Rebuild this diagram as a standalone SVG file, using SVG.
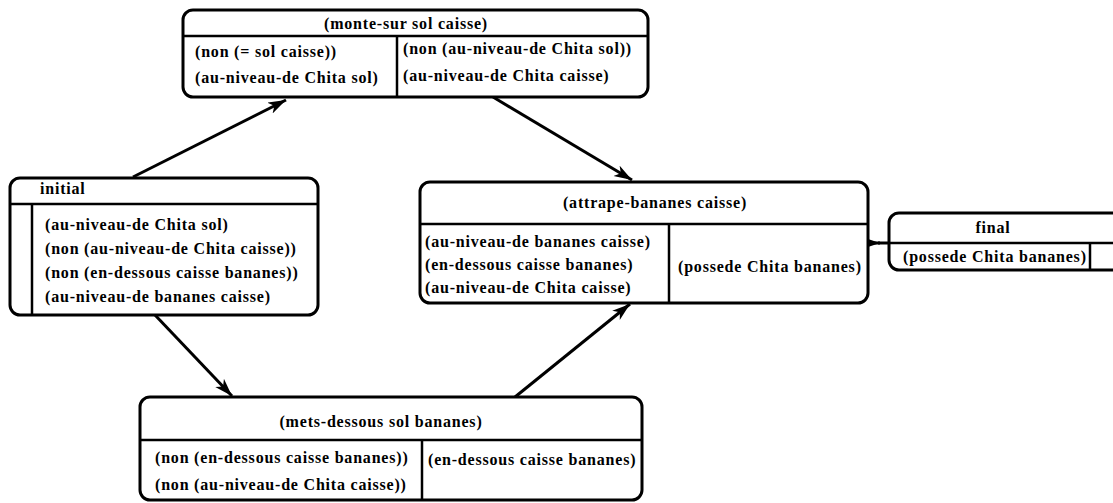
<svg xmlns="http://www.w3.org/2000/svg" width="1113" height="503" viewBox="0 0 1113 503">
  <style>
    .box { fill: #fff; stroke: #000; stroke-width: 3; }
    .sep { stroke: #000; stroke-width: 2.5; fill: none; }
    .t { font-family: "Liberation Serif", "Times New Roman", serif; font-size: 16px; font-weight: bold; letter-spacing: 0.8px; fill: #000; }
    .c { text-anchor: middle; }
    .edge { stroke: #000; stroke-width: 3; fill: none; marker-end: url(#arrow); }
  </style>
  <defs>
    <marker id="arrow" markerUnits="userSpaceOnUse" markerWidth="20" markerHeight="14" refX="18" refY="6" orient="auto">
      <path d="M0,0 L18,6 L0,12 L5,6 z" fill="#000"/>
    </marker>
  </defs>
  <rect width="1113" height="503" fill="#fff"/>

  <g id="connectors">
    <path class="edge" d="M133,177 L286,100"/>
    <path class="edge" d="M493,97 L632,180"/>
    <path class="edge" d="M155,315 L232,396"/>
    <path class="edge" d="M515,397 L630,304"/>
    <path class="edge" d="M864,243 L880,243"/>
    <path class="sep" style="stroke-width:3" d="M878,243 L889,243"/>
  </g>

  <!-- initial state -->
  <g id="initial">
    <rect class="box" x="10" y="178" width="308" height="137" rx="10"/>
    <line class="sep" x1="10" y1="204" x2="318" y2="204"/>
    <line class="sep" x1="32" y1="204" x2="32" y2="315"/>
    <text class="t" x="40" y="194">initial</text>
    <text class="t" x="45" y="230">(au-niveau-de Chita sol)</text>
    <text class="t" x="45" y="254">(non (au-niveau-de Chita caisse))</text>
    <text class="t" x="45" y="278">(non (en-dessous caisse bananes))</text>
    <text class="t" x="45" y="302">(au-niveau-de bananes caisse)</text>
  </g>

  <!-- operator: monte-sur -->
  <g id="monte-sur">
    <rect class="box" x="183" y="10" width="465" height="87" rx="10"/>
    <line class="sep" x1="183" y1="36" x2="648" y2="36"/>
    <line class="sep" x1="397" y1="36" x2="397" y2="97"/>
    <text class="t c" x="406" y="29">(monte-sur sol caisse)</text>
    <text class="t" x="195" y="57">(non (= sol caisse))</text>
    <text class="t" x="195" y="83">(au-niveau-de Chita sol)</text>
    <text class="t" x="403" y="54">(non (au-niveau-de Chita sol))</text>
    <text class="t" x="403" y="81">(au-niveau-de Chita caisse)</text>
  </g>

  <!-- operator: attrape-bananes -->
  <g id="attrape-bananes">
    <rect class="box" x="420" y="182" width="448" height="121" rx="10"/>
    <line class="sep" x1="420" y1="224" x2="868" y2="224"/>
    <line class="sep" x1="669" y1="224" x2="669" y2="303"/>
    <text class="t c" x="655" y="208">(attrape-bananes caisse)</text>
    <text class="t" x="425" y="247">(au-niveau-de bananes caisse)</text>
    <text class="t" x="425" y="270">(en-dessous caisse bananes)</text>
    <text class="t" x="425" y="293">(au-niveau-de Chita caisse)</text>
    <text class="t" x="678" y="272">(possede Chita bananes)</text>
  </g>

  <!-- operator: mets-dessous -->
  <g id="mets-dessous">
    <rect class="box" x="140" y="397" width="502" height="103" rx="10"/>
    <line class="sep" x1="140" y1="440" x2="642" y2="440"/>
    <line class="sep" x1="422" y1="440" x2="422" y2="500"/>
    <text class="t c" x="381" y="427">(mets-dessous sol bananes)</text>
    <text class="t" x="155" y="463">(non (en-dessous caisse bananes))</text>
    <text class="t" x="155" y="490">(non (au-niveau-de Chita caisse))</text>
    <text class="t" x="428" y="465">(en-dessous caisse bananes)</text>
  </g>

  <!-- final state -->
  <g id="final">
    <rect class="box" x="889" y="213" width="240" height="57" rx="10"/>
    <line class="sep" x1="889" y1="243" x2="1113" y2="243"/>
    <line class="sep" x1="1090" y1="243" x2="1090" y2="270"/>
    <text class="t c" x="993" y="233">final</text>
    <text class="t" x="903" y="262">(possede Chita bananes)</text>
  </g>
</svg>
